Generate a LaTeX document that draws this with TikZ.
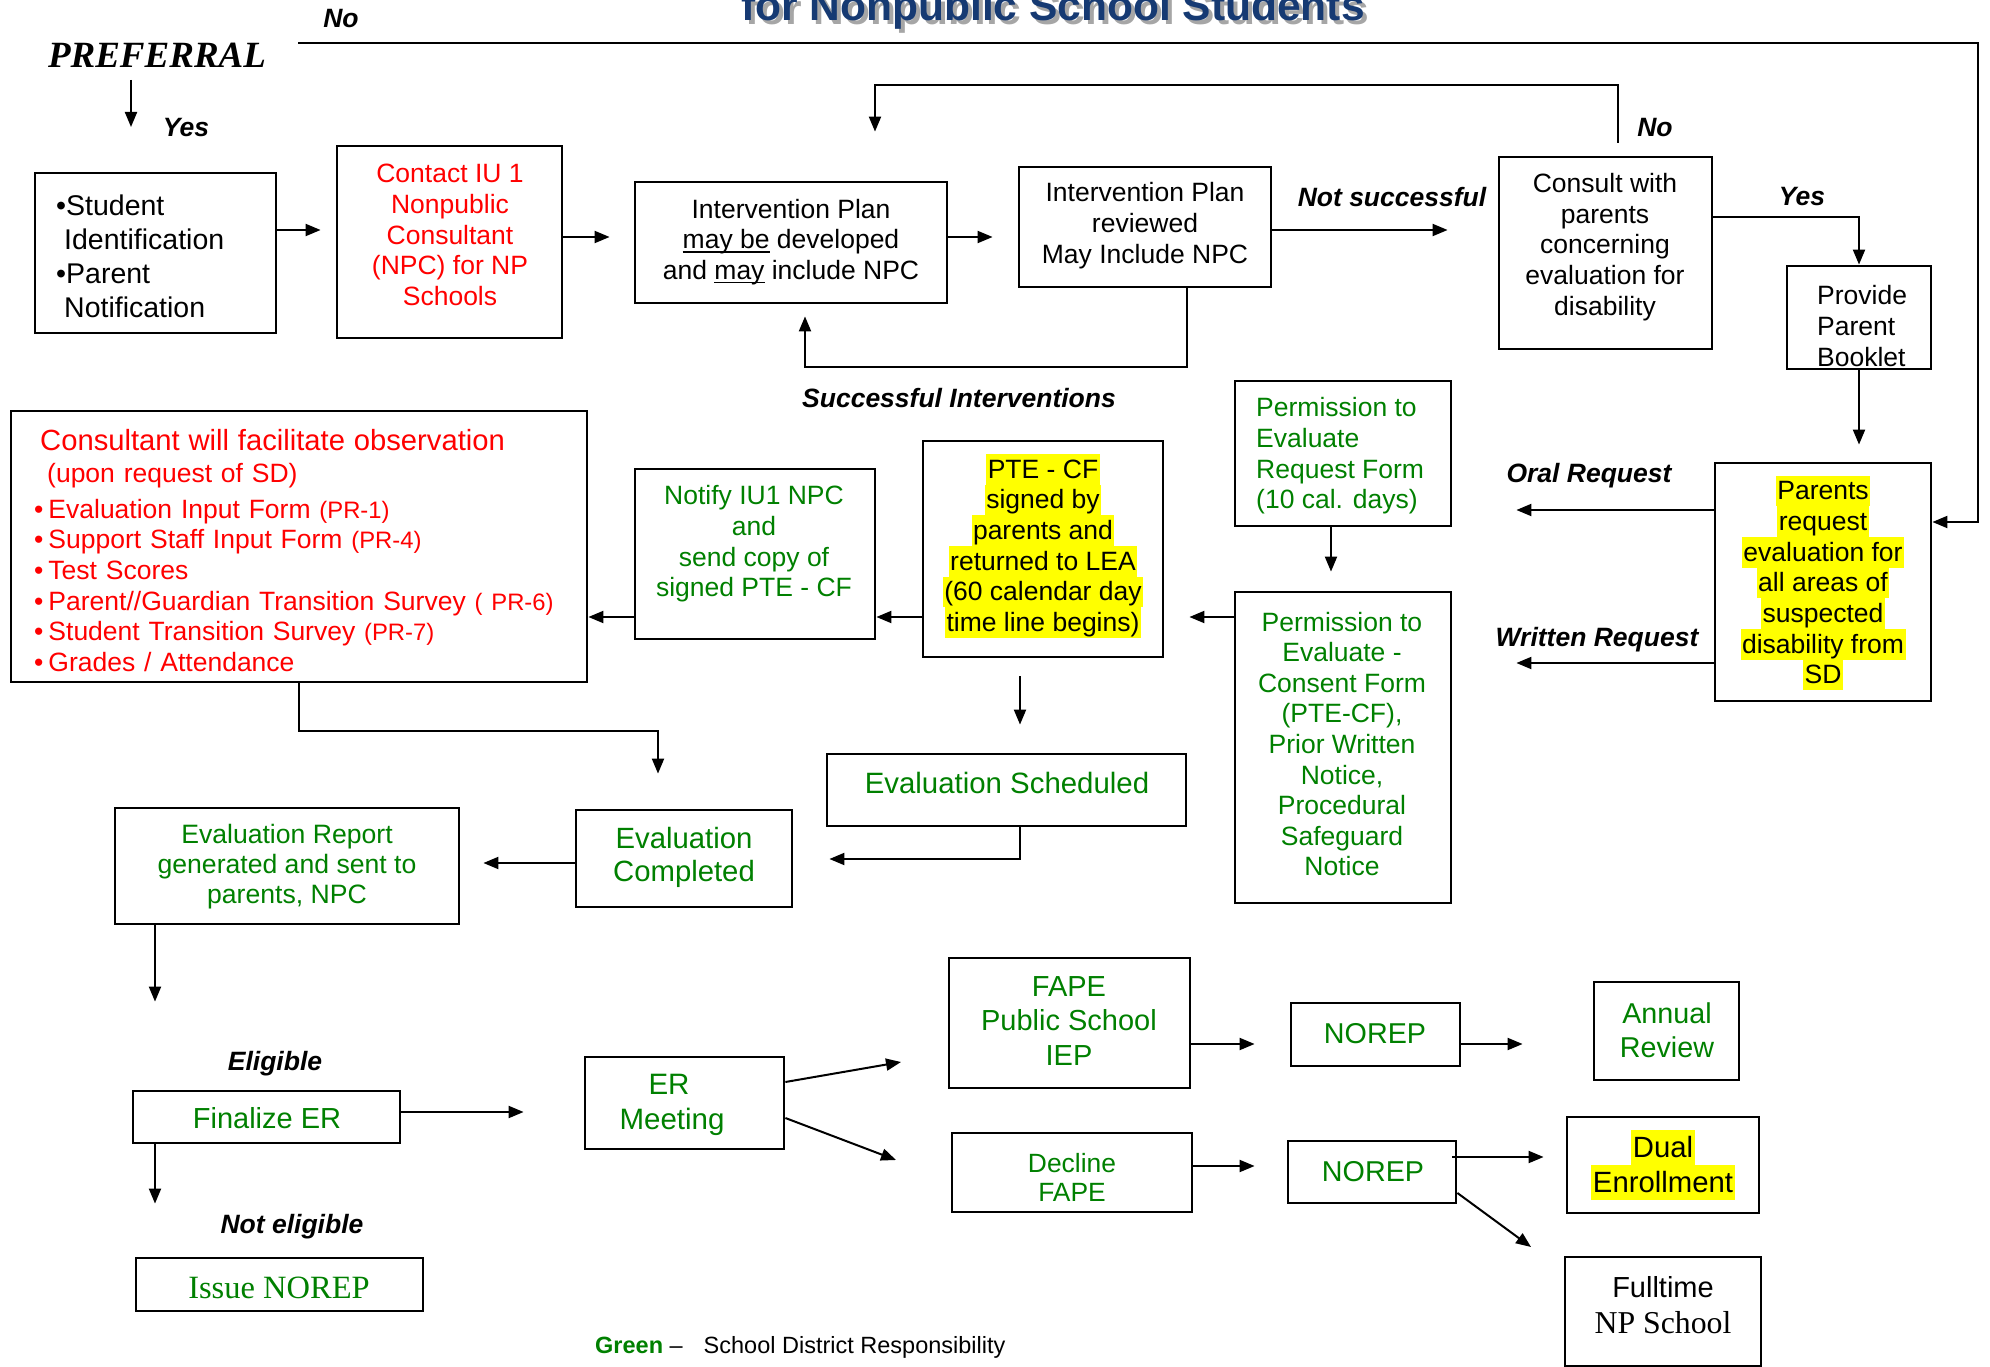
\documentclass[tikz,border=0pt]{standalone}
\usepackage{fontspec}
\setmainfont{Liberation Sans}
\newfontfamily\timesf{Liberation Serif}
\usetikzlibrary{arrows.meta,fit}
\definecolor{myred}{RGB}{255,0,0}
\definecolor{mygreen}{RGB}{0,128,0}
\definecolor{myblue}{RGB}{22,58,115}
\definecolor{hly}{RGB}{255,255,0}
\newcommand\hlt[3]{{\setlength{\fboxsep}{0pt}\colorbox{hly}{\rule[-#1]{0pt}{#2}\kern1.5pt#3\kern1.5pt}}}
\newcommand\ulx[1]{{\setbox0\hbox{#1}\rlap{\rule[-4pt]{\wd0}{1.6pt}}\box0}}
\newcommand\smpr{\fontsize{23.8}{30.6}\selectfont}
\begin{document}
\begin{tikzpicture}[x=1pt,y=-1pt,
  box/.style={draw, line width=2.8pt, inner sep=0pt},
  con/.style={line width=2pt},
  arr/.style={con, -{Triangle[length=15pt,width=12pt]}},
  lab/.style={font=\fontsize{26.5}{30}\selectfont\bfseries\itshape, inner sep=0pt},
  txt/.style={inner sep=0pt, align=center, font=\fontsize{26.5}{30.7}\selectfont},
]
\useasboundingbox (0,0) rectangle (1990,1367);
\clip (0,0) rectangle (1990,1367);

% title
\node[anchor=base, inner sep=0, font=\fontsize{42.5}{50}\selectfont\bfseries, text=black!35] (titleSh) at (1057,25) {for Nonpublic School Students};
\node[anchor=base, inner sep=0, font=\fontsize{42.5}{50}\selectfont\bfseries, text=myblue] (title) at (1053,21) {for Nonpublic School Students};

\node[inner sep=0, font=\fontsize{37}{40}\selectfont\timesf\bfseries\itshape] (pref) at (157,55) {PREFERRAL};

% boxes
\node[box, fit={(35,173) (276,333)}] (student) {};
\node[box, fit={(337,146) (562,338)}] (contact) {};
\node[box, fit={(635,182) (947,303)}] (ip) {};
\node[box, fit={(1019,167) (1271,287)}] (ipr) {};
\node[box, fit={(1499,157) (1712,349)}] (consult) {};
\node[box, fit={(1787,266) (1931,369)}] (provide) {};
\node[box, fit={(1715,463) (1931,701)}] (parents) {};
\node[box, fit={(1235,381) (1451,526)}] (reqform) {};
\node[box, fit={(1235,592) (1451,903)}] (consent) {};
\node[box, fit={(923,441) (1163,657)}] (ptecf) {};
\node[box, fit={(635,469) (875,639)}] (notify) {};
\node[box, fit={(11,411) (587,682)}] (consultant) {};
\node[box, fit={(827,754) (1186,826)}] (evalsched) {};
\node[box, fit={(576,810) (792,907)}] (evalcomp) {};
\node[box, fit={(115,808) (459,924)}] (evalrep) {};
\node[box, fit={(133,1091) (400,1143)}] (finalize) {};
\node[box, fit={(136,1258) (423,1311)}] (issue) {};
\node[box, fit={(585,1057) (784,1149)}] (ermeet) {};
\node[box, fit={(949,958) (1190,1088)}] (fape) {};
\node[box, fit={(1291,1003) (1460,1066)}] (norep1) {};
\node[box, fit={(1594,982) (1739,1080)}] (annual) {};
\node[box, fit={(952,1133) (1192,1212)}] (decline) {};
\node[box, fit={(1288,1141) (1456,1203)}] (norep2) {};
\node[box, fit={(1567,1117) (1759,1213)}] (dual) {};
\node[box, fit={(1565,1257) (1761,1366)}] (fulltime) {};

% texts
\node[txt, align=left, anchor=west, font=\fontsize{28.5}{34}\selectfont] (studentT) at (56,256)
  {•Student\\\hspace*{8pt}Identification\\•Parent\\\hspace*{8pt}Notification};
\node[txt, text=myred, font=\fontsize{26.5}{30.8}\selectfont] (contactT) at (450,235)
  {Contact IU 1\\Nonpublic\\Consultant\\(NPC) for NP\\Schools};
\node[txt, font=\fontsize{26.5}{30.5}\selectfont] (ipT) at (791,242)
  {Intervention Plan\\\ulx{may be} developed\\and \ulx{may} include NPC};
\node[txt, font=\fontsize{26.5}{31}\selectfont] (iprT) at (1145,226)
  {Intervention Plan\\reviewed\\May Include NPC};
\node[txt, font=\fontsize{26.5}{30.75}\selectfont] (consultT) at (1605,247)
  {Consult with\\parents\\concerning\\evaluation for\\disability};
\node[txt, align=left, anchor=west, font=\fontsize{26.5}{31}\selectfont] (provideT) at (1817,326)
  {Provide\\Parent\\Booklet};
\node[txt] (parentsT) at (1823,583)
  {\hlt{6.5pt}{30.7pt}{Parents}\\\hlt{6.5pt}{30.7pt}{request}\\\hlt{6.5pt}{30.7pt}{evaluation for}\\\hlt{6.5pt}{30.7pt}{all areas of}\\\hlt{6.5pt}{30.7pt}{suspected}\\\hlt{6.5pt}{30.7pt}{disability from}\\\hlt{6.5pt}{30.7pt}{SD}};
\node[txt, align=left, anchor=west, text=mygreen] (reqformT) at (1256,456)
  {Permission to\\Evaluate\\Request Form\\(10 cal. days)};
\node[txt, text=mygreen, font=\fontsize{26.5}{30.6}\selectfont] (consentT) at (1342,744)
  {Permission to\\Evaluate -\\Consent Form\\(PTE-CF),\\Prior Written\\Notice,\\Procedural\\Safeguard\\Notice};
\node[txt, font=\fontsize{26.5}{30.6}\selectfont] (ptecfT) at (1043,546)
  {\hlt{6.5pt}{30.6pt}{PTE - CF}\\\hlt{6.5pt}{30.6pt}{signed by}\\\hlt{6.5pt}{30.6pt}{parents and}\\\hlt{6.5pt}{30.6pt}{returned to LEA}\\\hlt{6.5pt}{30.6pt}{(60 calendar day}\\\hlt{6.5pt}{30.6pt}{time line begins)}};
\node[txt, text=mygreen] (notifyT) at (754,544)
  {Notify IU1 NPC\\and\\send copy of\\signed PTE - CF};
\node[txt, align=left, anchor=north west, text width=560pt, text=myred, font=\fontsize{26.5}{30.6}\selectfont] (consultantT) at (34,429)
  {\hspace*{6pt}{\fontsize{29.2}{30.6}\selectfont Consultant will facilitate observation}\\[1.4pt]
   \hspace*{13pt}(upon request of SD)\\[5.4pt]
   •\kern5pt Evaluation Input Form {\smpr(PR-1)}\\
   •\kern5pt Support Staff Input Form {\smpr(PR-4)}\\
   •\kern5pt Test Scores\\
   •\kern5pt Parent//Guardian Transition Survey {\smpr( PR-6)}\\
   •\kern5pt Student Transition Survey {\smpr(PR-7)}\\
   •\kern5pt Grades / Attendance};
\node[txt, text=mygreen, font=\fontsize{29.4}{33}\selectfont] (evalschedT) at (1007,783) {Evaluation Scheduled};
\node[txt, text=mygreen, font=\fontsize{29.3}{33}\selectfont] (evalcompT) at (684,857) {Evaluation\\Completed};
\node[txt, text=mygreen, font=\fontsize{26.6}{30}\selectfont] (evalrepT) at (287,867)
  {Evaluation Report\\generated and sent to\\parents, NPC};
\node[txt, text=mygreen, font=\fontsize{29}{33}\selectfont] (finalizeT) at (267,1118) {Finalize ER};
\node[txt, text=mygreen, font=\fontsize{32.5}{36}\selectfont\timesf] (issueT) at (279,1288) {Issue NOREP};
\node[txt, text=mygreen, font=\fontsize{29.5}{35}\selectfont] (ermeetT) at (672,1105) {\hspace*{-6pt}ER\\Meeting};
\node[txt, text=mygreen, font=\fontsize{29}{34.5}\selectfont] (fapeT) at (1069,1021) {FAPE\\Public School\\IEP};
\node[txt, text=mygreen, font=\fontsize{28.7}{33}\selectfont] (norep1T) at (1375,1034) {NOREP};
\node[txt, text=mygreen, font=\fontsize{28.7}{34}\selectfont] (annualT) at (1667,1030) {Annual\\Review};
\node[txt, text=mygreen, font=\fontsize{26.4}{29}\selectfont] (declineT) at (1072,1177) {Decline\\FAPE};
\node[txt, text=mygreen, font=\fontsize{28.7}{33}\selectfont] (norep2T) at (1373,1172) {NOREP};
\node[txt, font=\fontsize{29.3}{35}\selectfont] (dualT) at (1663,1165)
  {\hlt{8pt}{35pt}{Dual}\\\hlt{8pt}{35pt}{Enrollment}};
\node[txt, font=\fontsize{29}{36}\selectfont] (fulltimeT) at (1663,1305)
  {Fulltime\\{\timesf\fontsize{31.8}{36}\selectfont NP School}};

% labels
\node[lab] (noTop) at (341,19) {No};
\node[lab] (yes1) at (186,128) {Yes};
\node[lab] (no2) at (1655,128) {No};
\node[lab] (yes2) at (1802,197) {Yes};
\node[lab] (notsucc) at (1392,197) {Not successful};
\node[lab] (succ) at (959,398) {Successful Interventions};
\node[lab] (oral) at (1589,476) {Oral Request};
\node[lab] (written) at (1597,640) {Written Request};
\node[lab] (elig) at (275,1064) {Eligible};
\node[lab] (notelig) at (292,1227) {Not eligible};
\node[anchor=west, inner sep=0, font=\fontsize{23.5}{28}\selectfont] (legend) at (595,1347)
  {\textcolor{mygreen}{\bfseries Green} –\hspace{21pt}School District Responsibility};

% connectors
\coordinate (p1) at (131,80);
\coordinate (p2) at (131,127);
\draw[arr] (p1) -- (p2);
\coordinate (n0) at (298,43);
\coordinate (nC) at (1978,43);
\coordinate (pR) at ([yshift=60pt]parents.east);
\draw[arr] (n0) -- (nC) |- (pR);
\coordinate (a1) at ([yshift=23pt]student.east);
\draw[arr, shorten >=15pt] (a1) -- (a1 -| contact.west);
\coordinate (a2) at ([yshift=5pt]contact.east);
\draw[arr, shorten >=24pt] (a2) -- (a2 -| ip.west);
\coordinate (a3) at ([yshift=5.5pt]ip.east);
\draw[arr, shorten >=25pt] (a3) -- (a3 -| ipr.west);
\coordinate (a4) at ([xshift=12pt,yshift=13pt]consult.north);
\coordinate (a4t) at ([xshift=84pt]ip.north);
\draw[arr, shorten >=49pt] (a4) -- ++(0,-58) -| (a4t);
\coordinate (a5) at ([xshift=42pt]ipr.south);
\coordinate (a5t) at ([xshift=14pt]ip.south);
\draw[arr, shorten >=12pt] (a5) -- ++(0,79) -| (a5t);
\coordinate (a6) at ([yshift=-3pt]ipr.east);
\draw[arr, shorten >=50pt] (a6) -- (a6 -| consult.west);
\coordinate (a7) at ([yshift=36pt]consult.east);
\draw[arr] (a7) -| (provide.north);
\draw[arr, shorten >=17pt] (provide.south) -- (provide.south |- parents.north);
\coordinate (a8) at ([yshift=72pt]parents.west);
\draw[arr, shorten >=64pt] (a8) -- (a8 -| reqform.east);
\coordinate (a9) at ([yshift=-81pt]parents.west);
\draw[arr, shorten >=64pt] (a9) -- (a9 -| consent.east);
\coordinate (a10) at ([xshift=-12pt]reqform.south);
\draw[arr, shorten >=19pt] (a10) -- (a10 |- consent.north);
\coordinate (a11) at ([yshift=130.5pt]consent.west);
\draw[arr, shorten >=25pt] (a11) -- (a11 -| ptecf.east);
\coordinate (a12) at ([yshift=-68pt]ptecf.west);
\draw[arr] (a12) -- (a12 -| notify.east);
\coordinate (a13) at ([yshift=-63pt]notify.west);
\draw[arr] (a13) -- (a13 -| consultant.east);
\coordinate (a14) at ([xshift=-23pt]ptecf.south);
\draw[arr, shorten <=18pt, shorten >=28pt] (a14) -- (a14 |- evalsched.north);
\coordinate (a15) at ([xshift=13.5pt]evalsched.south);
\coordinate (a15t) at ([yshift=-0.5pt]evalcomp.east);
\draw[arr, shorten >=36pt] (a15) |- (a15t);
\coordinate (a16) at ([yshift=-4.5pt]evalcomp.west);
\draw[arr, shorten >=23pt] (a16) -- (a16 -| evalrep.east);
\coordinate (a17t) at ([xshift=-26pt]evalcomp.north);
\draw[arr, shorten >=35pt] (consultant.south) -- ++(0,48) -| (a17t);
\coordinate (a18) at ([xshift=-132pt]evalrep.south);
\draw[arr, shorten >=88pt] (a18) -- (a18 |- finalize.north);
\coordinate (a19) at ([yshift=5pt]finalize.east);
\draw[arr, shorten >=60pt] (a19) -- (a19 -| ermeet.west);
\coordinate (a20) at ([xshift=-111.5pt]finalize.south);
\draw[arr, shorten >=53pt] (a20) -- (a20 |- issue.north);
\coordinate (a21) at ([yshift=21pt]ermeet.east);
\coordinate (fapeIn) at (901,1062);
\draw[arr] (a21) -- (fapeIn);
\coordinate (a22) at ([yshift=-15pt]ermeet.east);
\coordinate (declIn) at (896,1160);
\draw[arr] (a22) -- (declIn);
\coordinate (a23) at ([yshift=-21pt]fape.east);
\draw[arr, shorten >=35pt] (a23) -- (a23 -| norep1.west);
\coordinate (a24) at ([yshift=-9.5pt]norep1.east);
\draw[arr, shorten >=70pt] (a24) -- (a24 -| annual.west);
\coordinate (a25) at ([yshift=6.5pt]decline.east);
\draw[arr, shorten >=32pt] (a25) -- (a25 -| norep2.west);
\coordinate (a26) at ([xshift=-5pt,yshift=15pt]norep2.east);
\draw[arr, shorten >=22pt] (a26) -- (a26 -| dual.west);
\coordinate (a27) at ([yshift=-21pt]norep2.east);
\coordinate (ftIn) at (1531,1247);
\draw[arr] (a27) -- (ftIn);
\end{tikzpicture}
\end{document}
